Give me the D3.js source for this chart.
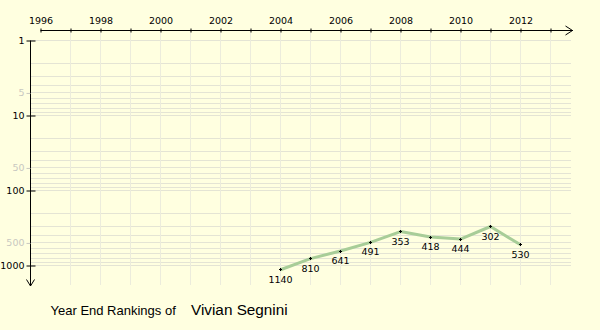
<!DOCTYPE html>
<html>
<head>
<meta charset="utf-8">
<script src="https://cdn.jsdelivr.net/npm/d3@7"></script>
<style>
  html, body { margin: 0; padding: 0; background: #ffffe0; }
  svg { display: block; }
</style>
</head>
<body>
<script>
// Year-end ranking history
const years = [2004, 2005, 2006, 2007, 2008, 2009, 2010, 2011, 2012];
const ranks = [1140, 810, 641, 491, 353, 418, 444, 302, 530];
const yearTicks = [1996, 1997, 1998, 1999, 2000, 2001, 2002, 2003, 2004, 2005, 2006, 2007, 2008, 2009, 2010, 2011, 2012, 2013];
const yearLabels = [1996, 1998, 2000, 2002, 2004, 2006, 2008, 2010, 2012];
const rankMajor = [1, 10, 100, 1000];
const rankMinor = [5, 50, 500];
const gridRanks = [1, 2, 3, 4, 5, 6, 7, 8, 9, 10, 20, 30, 40, 50, 60, 70, 80, 90, 100,
                   200, 300, 400, 500, 600, 700, 800, 900, 1000];
const playerName = "Vivian Segnini";

const W = 600, H = 330;
const svg = d3.select("body").append("svg").attr("width", W).attr("height", H);
svg.append("rect").attr("width", W).attr("height", H).attr("fill", "#ffffe0");

const x = d3.scaleLinear().domain([1996, 2013]).range([40.5, 550.5]);
const y = d3.scaleLog().domain([1, 1000]).range([40.5, 265.5]);

const axisFont = "DejaVu Sans, Verdana, sans-serif";

// grid
const grid = svg.append("g");
grid.selectAll("line.h").data(gridRanks).join("line")
  .attr("x1", 31).attr("x2", 571)
  .attr("y1", d => Math.round(y(d) - 0.5) + 0.5)
  .attr("y2", d => Math.round(y(d) - 0.5) + 0.5)
  .attr("stroke", "#e4e4d4").attr("stroke-width", 1);
grid.selectAll("line.v").data(yearTicks.slice(1)).join("line")
  .attr("x1", d => x(d)).attr("x2", d => x(d))
  .attr("y1", 31).attr("y2", 285)
  .attr("stroke", "#ececdc").attr("stroke-width", 1);

// top year axis
const xAxis = d3.axisTop(x).tickValues(yearTicks).tickSize(2).tickSizeOuter(0)
  .tickFormat(d => yearLabels.includes(d) ? String(d) : "");
const gx = svg.append("g").attr("transform", "translate(0,30.5)").call(xAxis);
gx.select(".domain").remove();
gx.selectAll(".tick line").attr("y1", -2).attr("y2", 2).attr("stroke", "#000");
gx.selectAll(".tick text").attr("y", -7).attr("font-family", axisFont)
  .attr("font-size", "9.5px").attr("fill", "#000");
gx.append("line").attr("x1", 40.5).attr("x2", 573).attr("y1", 0).attr("y2", 0).attr("stroke", "#000");
gx.append("path").attr("d", "M565.5,-4.5L572.5,0L565.5,4.5").attr("fill", "none").attr("stroke", "#000");

// left rank axis
const gy = svg.append("g").attr("transform", "translate(30.5,0)");
gy.append("line").attr("x1", 0).attr("x2", 0).attr("y1", 40.5).attr("y2", 286).attr("stroke", "#000");
gy.append("path").attr("d", "M-4,279.5L0,286L4,279.5").attr("fill", "none").attr("stroke", "#000");

const yAxisMajor = d3.axisLeft(y).tickValues(rankMajor).tickSize(4).tickFormat(d3.format("d"));
const gMaj = gy.append("g").call(yAxisMajor);
gMaj.select(".domain").remove();
gMaj.selectAll(".tick line").attr("x1", -4).attr("x2", 5).attr("stroke", "#000");
gMaj.selectAll(".tick text").attr("x", -6).attr("font-family", axisFont)
  .attr("font-size", "9.5px").attr("fill", "#000");

const yAxisMinor = d3.axisLeft(y).tickValues(rankMinor).tickSize(4).tickFormat(d3.format("d"));
const gMin = gy.append("g").call(yAxisMinor);
gMin.select(".domain").remove();
gMin.selectAll(".tick line").attr("stroke", "#c8c8c0");
gMin.selectAll(".tick text").attr("x", -6).attr("font-family", axisFont)
  .attr("font-size", "9.5px").attr("fill", "#c8c8c0");

// ranking line
const pts = years.map((yr, i) => ({ yr, r: ranks[i] }));
svg.append("path").datum(pts)
  .attr("d", d3.line().x(d => x(d.yr)).y(d => y(d.r)))
  .attr("fill", "none").attr("stroke", "#a8cd98").attr("stroke-width", 3)
  .attr("stroke-linejoin", "round");

// point markers
const mk = svg.append("g").selectAll("g").data(pts).join("g")
  .attr("transform", d => `translate(${x(d.yr)},${Math.round(y(d.r) - 0.5) + 0.5})`);
mk.append("line").attr("x1", -1.5).attr("x2", 1.5).attr("stroke", "#000");
mk.append("line").attr("y1", -1.5).attr("y2", 1.5).attr("stroke", "#000");

// value labels
svg.append("g").selectAll("text").data(pts).join("text")
  .attr("x", d => x(d.yr)).attr("y", d => y(d.r) + 13)
  .attr("text-anchor", "middle")
  .attr("font-family", axisFont).attr("font-size", "9.5px").attr("fill", "#000")
  .text(d => d.r);

// title
svg.append("text").attr("x", 50.5).attr("y", 315)
  .attr("font-family", "Liberation Sans, Arial, sans-serif").attr("font-size", "13px")
  .attr("fill", "#000").text("Year End Rankings of");
svg.append("text").attr("x", 191).attr("y", 315)
  .attr("font-family", "Liberation Sans, Arial, sans-serif").attr("font-size", "15.3px")
  .attr("fill", "#000").text(playerName);
</script>
</body>
</html>
